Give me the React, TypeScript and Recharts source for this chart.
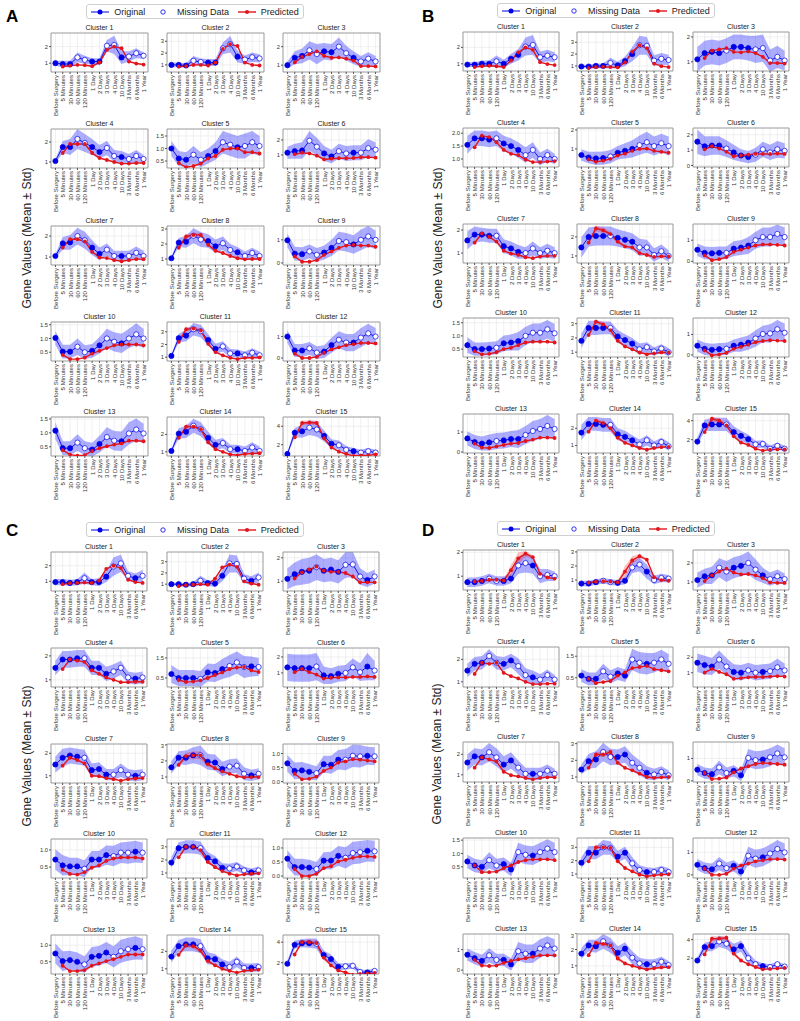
import { ComposedChart, Area, Line, XAxis, YAxis, CartesianGrid, ReferenceArea } from 'recharts';

const TIMEPOINTS = [
  'Before Surgery', '5 Minutes', '30 Minutes', '60 Minutes', '120 Minutes', '1 Day', '2 Days',
  '3 Days', '4 Days', '10 Days', '3 Months', '6 Months', '1 Year',
];
const IDX = TIMEPOINTS.map((_, i) => i);

const BLUE = '#0000e6';
const RED = '#e3141b';
const FONT = '"Liberation Sans", Arial, sans-serif';

// which time points are missing (white markers) in each panel
const A_MISSING = [3, 4, 7, 8, 10, 11, 12];
const B_MISSING = [4, 8, 9, 10, 11, 12];
const C_MISSING = [4, 8, 9, 10, 12];
const D_MISSING = [3, 4, 7, 8, 10, 11, 12];

// ---------------- panel A ----------------
const A_ORIG = [
  [1.0, 0.95, 0.95, 1.35, 1.2, 1.1, 1.1, 2.05, 2.1, 1.35, 1.4, 1.6, 1.45],
  [1.0, 1.0, 0.95, 1.35, 1.25, 1.2, 1.2, 2.4, 2.75, 1.7, 1.45, 1.65, 1.55],
  [1.0, 1.4, 1.5, 1.8, 1.6, 1.75, 1.7, 2.0, 1.65, 1.4, 1.2, 1.35, 1.2],
  [1.05, 1.75, 1.75, 2.15, 1.95, 1.75, 1.5, 1.7, 1.3, 1.25, 1.15, 1.3, 1.15],
  [1.0, 0.6, 0.55, 0.75, 0.55, 0.7, 0.9, 1.25, 1.15, 1.05, 1.1, 1.25, 1.1],
  [1.15, 1.25, 1.3, 1.95, 1.55, 1.1, 0.9, 1.25, 1.1, 1.15, 1.15, 1.45, 1.35],
  [1.05, 1.65, 1.7, 2.0, 1.8, 1.45, 1.15, 1.35, 1.05, 1.05, 1.05, 1.2, 1.05],
  [1.05, 2.1, 2.15, 2.55, 2.3, 2.2, 1.85, 2.05, 1.6, 1.45, 1.2, 1.4, 1.2],
  [0.98, 0.4, 0.38, 0.5, 0.35, 0.45, 0.65, 0.95, 0.9, 0.8, 1.0, 1.15, 1.0],
  [1.02, 0.52, 0.52, 0.7, 0.5, 0.55, 0.75, 1.0, 0.88, 0.82, 1.0, 1.15, 1.0],
  [1.1, 2.5, 2.7, 3.2, 3.05, 2.35, 1.65, 1.85, 1.3, 1.3, 1.15, 1.35, 1.15],
  [1.0, 0.35, 0.35, 0.45, 0.25, 0.3, 0.6, 0.85, 0.72, 0.72, 0.95, 1.15, 1.0],
  [1.08, 0.45, 0.45, 0.65, 0.45, 0.4, 0.6, 0.85, 0.72, 0.7, 0.98, 1.12, 0.98],
  [1.05, 2.05, 2.15, 2.5, 2.3, 1.8, 1.4, 1.5, 1.15, 1.15, 1.05, 1.25, 1.05],
  [1.0, 3.3, 3.45, 3.85, 3.65, 2.95, 2.1, 1.95, 1.45, 1.3, 1.15, 1.3, 1.15],
];
const A_STD = [
  [0.15, 0.2, 0.2, 0.3, 0.25, 0.2, 0.2, 0.35, 0.55, 0.4, 0.3, 0.3, 0.2],
  [0.2, 0.2, 0.2, 0.4, 0.3, 0.3, 0.3, 0.5, 0.7, 0.5, 0.35, 0.4, 0.35],
  [0.2, 0.35, 0.4, 0.5, 0.55, 0.45, 0.45, 0.5, 0.4, 0.35, 0.3, 0.35, 0.3],
  [0.1, 0.3, 0.4, 0.5, 0.45, 0.4, 0.35, 0.35, 0.3, 0.3, 0.25, 0.3, 0.2],
  [0.3, 0.3, 0.3, 0.35, 0.3, 0.3, 0.35, 0.45, 0.45, 0.45, 0.5, 0.45, 0.4],
  [0.4, 0.5, 0.55, 0.65, 0.6, 0.5, 0.45, 0.5, 0.5, 0.5, 0.5, 0.6, 0.5],
  [0.1, 0.3, 0.35, 0.4, 0.4, 0.35, 0.3, 0.3, 0.25, 0.25, 0.25, 0.3, 0.25],
  [0.1, 0.3, 0.4, 0.5, 0.5, 0.45, 0.45, 0.45, 0.4, 0.35, 0.3, 0.35, 0.3],
  [0.3, 0.3, 0.3, 0.3, 0.3, 0.3, 0.35, 0.4, 0.4, 0.4, 0.45, 0.45, 0.4],
  [0.25, 0.25, 0.25, 0.3, 0.25, 0.25, 0.3, 0.35, 0.35, 0.35, 0.35, 0.4, 0.35],
  [0.1, 0.35, 0.45, 0.5, 0.5, 0.45, 0.4, 0.4, 0.35, 0.3, 0.3, 0.35, 0.3],
  [0.3, 0.3, 0.3, 0.3, 0.3, 0.3, 0.35, 0.4, 0.4, 0.4, 0.45, 0.45, 0.4],
  [0.3, 0.25, 0.25, 0.3, 0.25, 0.25, 0.3, 0.35, 0.35, 0.35, 0.4, 0.4, 0.35],
  [0.1, 0.3, 0.35, 0.4, 0.4, 0.35, 0.3, 0.3, 0.25, 0.25, 0.25, 0.3, 0.25],
  [0.15, 0.5, 0.7, 0.8, 0.8, 0.6, 0.5, 0.5, 0.4, 0.35, 0.3, 0.35, 0.3],
];
// predicted values start at "5 Minutes"
const A_PRED = [
  [0.8, 0.85, 0.9, 0.88, 0.82, 1.05, 1.8, 2.0, 1.9, 1.1, 0.98, 0.92],
  [0.85, 0.9, 1.0, 1.0, 0.95, 1.2, 2.35, 2.75, 2.6, 1.2, 1.0, 0.95],
  [1.15, 1.45, 1.6, 1.75, 1.5, 1.4, 1.42, 1.35, 1.25, 0.95, 0.95, 0.93],
  [1.45, 1.9, 1.9, 1.9, 1.45, 1.2, 1.1, 1.0, 0.92, 0.92, 0.95, 0.95],
  [0.42, 0.25, 0.3, 0.4, 0.6, 0.7, 0.95, 1.0, 1.0, 0.85, 0.85, 0.8],
  [1.05, 1.15, 1.1, 0.95, 0.7, 0.75, 0.78, 0.78, 0.8, 0.85, 0.85, 0.82],
  [1.45, 1.85, 1.85, 1.75, 1.25, 0.98, 0.95, 0.85, 0.8, 0.85, 0.9, 0.9],
  [1.75, 2.5, 2.6, 2.6, 1.95, 1.55, 1.4, 1.2, 1.05, 0.98, 1.0, 1.0],
  [0.28, 0.05, 0.05, 0.12, 0.35, 0.5, 0.65, 0.75, 0.78, 0.75, 0.75, 0.7],
  [0.4, 0.25, 0.25, 0.3, 0.45, 0.55, 0.65, 0.75, 0.78, 0.78, 0.78, 0.75],
  [2.2, 3.2, 3.25, 3.1, 2.05, 1.4, 1.15, 0.95, 0.85, 0.95, 0.95, 0.98],
  [0.2, 0.0, 0.0, 0.05, 0.25, 0.4, 0.5, 0.6, 0.65, 0.7, 0.7, 0.68],
  [0.38, 0.22, 0.18, 0.2, 0.35, 0.45, 0.52, 0.58, 0.62, 0.72, 0.72, 0.7],
  [1.8, 2.45, 2.45, 2.3, 1.55, 1.15, 1.0, 0.85, 0.8, 0.88, 0.9, 0.92],
  [2.8, 4.35, 4.4, 4.35, 2.7, 1.7, 1.25, 1.0, 0.8, 0.85, 0.85, 0.95],
];
const A_PSTD = [
  null, null, null, null, null, null, null,
  [0.08, 0.15, 0.15, 0.15, 0.1, 0.05, 0.05, 0.05, 0.05, 0.05, 0.05, 0.05],
  null, null,
  [0.1, 0.15, 0.15, 0.15, 0.1, 0.05, 0.05, 0.05, 0.05, 0.05, 0.05, 0.05],
  null, null,
  [0.08, 0.12, 0.12, 0.12, 0.1, 0.05, 0.05, 0.05, 0.05, 0.05, 0.05, 0.05],
  [0.15, 0.25, 0.25, 0.25, 0.2, 0.1, 0.05, 0.05, 0.05, 0.05, 0.05, 0.05],
];
const A_TICKS = [[1, 2], [1, 2, 3], [1, 2], [1, 2], [0.5, 1, 1.5], [1, 2], [1, 2], [1, 2, 3], [0, 1], [0.5, 1, 1.5], [1, 2, 3], [0, 1], [0.5, 1, 1.5], [1, 2], [2, 4]];
const A_DOMAIN = [[0.47, 2.82], [0.4, 3.7], [0.63, 2.74], [0.7, 2.65], [0.22, 1.78], [0.13, 2.73], [0.62, 2.48], [0.6, 3.2], [-0.09, 1.6], [0.18, 1.6], [0.7, 3.77], [-0.14, 1.68], [0.17, 1.57], [0.76, 3.0], [0.78, 5.0]];

// ---------------- panel B ----------------
const B_ORIG = [
  [0.95, 0.95, 1.0, 1.0, 1.15, 1.0, 1.3, 1.55, 2.05, 2.15, 1.4, 1.5, 1.4],
  [0.95, 0.95, 1.0, 1.0, 1.25, 1.05, 1.4, 2.0, 2.75, 2.7, 1.45, 1.6, 1.5],
  [1.1, 1.35, 1.4, 1.35, 1.45, 1.6, 1.6, 1.55, 1.5, 1.55, 1.05, 1.2, 1.05],
  [1.55, 1.8, 1.8, 1.75, 1.8, 1.6, 1.5, 1.35, 1.15, 1.35, 1.0, 1.15, 1.0],
  [0.68, 0.55, 0.5, 0.52, 0.6, 0.8, 0.9, 1.0, 1.2, 1.35, 1.15, 1.3, 1.15],
  [1.55, 1.25, 1.3, 1.3, 1.1, 0.85, 0.65, 0.55, 0.7, 1.05, 0.85, 1.05, 0.95],
  [1.55, 1.8, 1.8, 1.75, 1.75, 1.3, 1.2, 1.05, 1.0, 1.2, 1.0, 1.1, 1.0],
  [1.45, 2.0, 2.05, 2.05, 2.05, 1.95, 1.85, 1.75, 1.45, 1.45, 1.05, 1.25, 1.0],
  [0.55, 0.4, 0.38, 0.4, 0.4, 0.6, 0.65, 0.75, 1.0, 1.15, 1.15, 1.3, 1.15],
  [0.65, 0.5, 0.5, 0.52, 0.55, 0.72, 0.75, 0.8, 1.0, 1.12, 1.12, 1.25, 1.1],
  [1.8, 2.7, 2.7, 2.7, 2.7, 2.1, 1.85, 1.6, 1.2, 1.35, 1.05, 1.25, 1.0],
  [0.45, 0.3, 0.25, 0.28, 0.3, 0.45, 0.5, 0.6, 0.8, 1.02, 1.05, 1.25, 1.08],
  [0.68, 0.5, 0.42, 0.48, 0.55, 0.58, 0.65, 0.65, 0.85, 1.05, 1.15, 1.3, 1.15],
  [1.75, 2.25, 2.25, 2.2, 2.2, 1.65, 1.5, 1.3, 1.05, 1.3, 1.0, 1.2, 0.95],
  [1.8, 3.5, 3.6, 3.6, 3.6, 2.8, 2.4, 2.05, 1.5, 1.55, 1.05, 1.35, 1.05],
];
const B_STD = [
  [0.15, 0.15, 0.2, 0.2, 0.35, 0.25, 0.3, 0.35, 0.55, 0.6, 0.35, 0.35, 0.3],
  [0.15, 0.15, 0.2, 0.2, 0.45, 0.3, 0.4, 0.6, 0.8, 0.75, 0.45, 0.5, 0.45],
  [0.5, 0.5, 0.5, 0.5, 0.5, 0.5, 0.5, 0.5, 0.55, 0.55, 0.45, 0.45, 0.4],
  [0.35, 0.3, 0.3, 0.3, 0.3, 0.3, 0.3, 0.3, 0.3, 0.3, 0.25, 0.25, 0.2],
  [0.3, 0.3, 0.35, 0.35, 0.35, 0.35, 0.4, 0.45, 0.5, 0.55, 0.5, 0.5, 0.5],
  [0.8, 0.65, 0.6, 0.6, 0.55, 0.5, 0.4, 0.4, 0.45, 0.5, 0.5, 0.55, 0.5],
  [0.4, 0.35, 0.3, 0.3, 0.3, 0.3, 0.3, 0.3, 0.25, 0.3, 0.25, 0.3, 0.25],
  [0.55, 0.5, 0.5, 0.5, 0.5, 0.45, 0.45, 0.45, 0.45, 0.4, 0.35, 0.35, 0.3],
  [0.3, 0.3, 0.3, 0.3, 0.3, 0.35, 0.35, 0.4, 0.4, 0.45, 0.45, 0.45, 0.45],
  [0.3, 0.25, 0.25, 0.25, 0.25, 0.3, 0.3, 0.35, 0.35, 0.35, 0.35, 0.35, 0.35],
  [0.5, 0.5, 0.5, 0.45, 0.45, 0.45, 0.4, 0.4, 0.4, 0.35, 0.3, 0.3, 0.3],
  [0.3, 0.3, 0.3, 0.3, 0.3, 0.3, 0.35, 0.35, 0.4, 0.4, 0.45, 0.45, 0.45],
  [0.35, 0.35, 0.35, 0.4, 0.4, 0.4, 0.4, 0.45, 0.45, 0.5, 0.5, 0.55, 0.5],
  [0.45, 0.4, 0.4, 0.4, 0.4, 0.35, 0.35, 0.3, 0.3, 0.3, 0.25, 0.25, 0.25],
  [0.4, 0.6, 0.7, 0.7, 0.7, 0.6, 0.55, 0.5, 0.4, 0.4, 0.35, 0.35, 0.3],
];
const B_PRED = [
  [0.8, 0.85, 0.88, 0.85, 0.8, 1.2, 1.7, 2.0, 1.85, 1.1, 0.98, 0.92],
  [0.82, 0.9, 0.92, 0.9, 0.88, 1.3, 2.2, 2.75, 2.5, 1.2, 0.98, 0.9],
  [1.15, 1.45, 1.5, 1.55, 1.4, 1.38, 1.42, 1.35, 1.2, 0.95, 0.95, 0.93],
  [1.45, 1.9, 1.85, 1.65, 1.35, 1.2, 1.15, 0.98, 0.88, 0.88, 0.9, 0.92],
  [0.45, 0.32, 0.38, 0.48, 0.65, 0.75, 0.9, 1.0, 1.02, 0.9, 0.85, 0.8],
  [1.05, 1.25, 1.1, 0.9, 0.6, 0.65, 0.7, 0.75, 0.75, 0.75, 0.78, 0.75],
  [1.45, 1.85, 1.7, 1.5, 1.1, 0.98, 0.92, 0.82, 0.78, 0.85, 0.88, 0.88],
  [1.7, 2.45, 2.35, 2.15, 1.75, 1.5, 1.45, 1.15, 1.05, 0.95, 0.98, 0.98],
  [0.28, 0.05, 0.1, 0.2, 0.45, 0.55, 0.65, 0.75, 0.8, 0.8, 0.78, 0.75],
  [0.42, 0.3, 0.32, 0.38, 0.5, 0.55, 0.65, 0.75, 0.78, 0.78, 0.78, 0.75],
  [2.2, 3.15, 2.95, 2.55, 1.8, 1.4, 1.2, 0.98, 0.85, 0.92, 0.98, 0.98],
  [0.22, -0.02, 0.02, 0.1, 0.3, 0.4, 0.5, 0.62, 0.68, 0.72, 0.7, 0.68],
  [0.42, 0.22, 0.2, 0.28, 0.35, 0.42, 0.45, 0.55, 0.62, 0.72, 0.72, 0.7],
  [1.8, 2.45, 2.3, 2.0, 1.45, 1.15, 1.0, 0.85, 0.75, 0.85, 0.9, 0.92],
  [2.8, 4.2, 4.0, 3.5, 2.35, 1.7, 1.45, 1.05, 0.85, 0.95, 0.98, 0.98],
];
const B_PSTD = [
  null, null, null, null, null, null, null,
  [0.08, 0.15, 0.15, 0.12, 0.1, 0.05, 0.05, 0.05, 0.05, 0.05, 0.05, 0.05],
  null, null,
  [0.1, 0.15, 0.15, 0.12, 0.1, 0.05, 0.05, 0.05, 0.05, 0.05, 0.05, 0.05],
  null, null,
  [0.08, 0.12, 0.12, 0.1, 0.08, 0.05, 0.05, 0.05, 0.05, 0.05, 0.05, 0.05],
  [0.15, 0.25, 0.25, 0.2, 0.15, 0.1, 0.05, 0.05, 0.05, 0.05, 0.05, 0.05],
];
const B_TICKS = [[1, 2], [1, 2, 3], [1, 2], [1, 1.5, 2], [1, 2], [0, 1, 2], [1, 2], [1, 2], [0, 1], [0.5, 1, 1.5], [1, 2, 3], [0, 1], [0, 1], [1, 2], [2, 4]];
const B_DOMAIN = [[0.56, 2.94], [0.57, 3.87], [0.63, 2.2], [0.69, 2.2], [0.05, 2.1], [-0.1, 2.44], [0.57, 2.26], [0.63, 2.68], [-0.08, 1.77], [0.2, 1.68], [0.66, 3.4], [-0.1, 1.8], [-0.05, 1.9], [0.56, 2.83], [0.6, 4.7]];

// ---------------- panel C ----------------
const C_ORIG = [
  [0.95, 0.95, 0.9, 0.95, 1.2, 0.95, 0.95, 1.3, 1.95, 2.15, 1.35, 1.2, 1.35],
  [1.0, 1.0, 0.95, 1.0, 1.3, 1.1, 1.05, 1.75, 2.85, 2.8, 1.5, 1.3, 1.6],
  [1.1, 1.3, 1.4, 1.45, 1.6, 1.45, 1.5, 1.4, 1.7, 1.72, 1.2, 1.05, 1.2],
  [1.5, 1.85, 1.85, 1.9, 1.9, 1.5, 1.5, 1.25, 1.35, 1.5, 1.1, 1.05, 1.1],
  [0.7, 0.5, 0.5, 0.5, 0.45, 0.78, 0.75, 0.95, 1.1, 1.28, 1.05, 1.08, 1.05],
  [1.35, 1.3, 1.3, 1.3, 1.4, 0.85, 0.8, 0.95, 1.0, 1.35, 1.05, 1.4, 1.15],
  [1.5, 1.8, 1.9, 1.85, 1.8, 1.25, 1.3, 1.05, 1.05, 1.25, 1.05, 1.0, 1.05],
  [1.6, 2.2, 2.2, 2.35, 2.35, 1.95, 1.9, 1.5, 1.65, 1.7, 1.2, 1.1, 1.2],
  [0.65, 0.38, 0.4, 0.35, 0.3, 0.62, 0.6, 0.78, 0.78, 0.92, 0.9, 0.92, 0.9],
  [0.72, 0.55, 0.52, 0.52, 0.45, 0.72, 0.72, 0.85, 0.82, 0.92, 0.92, 0.95, 0.92],
  [1.8, 2.9, 3.0, 3.0, 2.9, 2.15, 1.9, 1.4, 1.35, 1.5, 1.2, 1.05, 1.2],
  [0.62, 0.32, 0.32, 0.3, 0.25, 0.55, 0.55, 0.72, 0.65, 0.82, 0.85, 0.9, 0.88],
  [0.75, 0.52, 0.55, 0.5, 0.42, 0.65, 0.68, 0.78, 0.65, 0.82, 0.88, 0.92, 0.88],
  [1.7, 2.3, 2.4, 2.4, 2.3, 1.6, 1.55, 1.25, 1.1, 1.4, 1.05, 1.05, 1.1],
  [1.9, 3.75, 3.9, 3.9, 3.85, 2.75, 2.35, 1.6, 1.65, 1.7, 1.1, 1.05, 1.2],
];
const C_STD = [
  [0.2, 0.2, 0.2, 0.2, 0.35, 0.2, 0.25, 0.35, 0.6, 0.55, 0.3, 0.3, 0.4],
  [0.15, 0.15, 0.15, 0.2, 0.45, 0.25, 0.3, 0.5, 0.8, 0.75, 0.4, 0.4, 0.45],
  [0.45, 0.5, 0.55, 0.55, 0.55, 0.5, 0.5, 0.5, 0.55, 0.55, 0.35, 0.3, 0.3],
  [0.3, 0.35, 0.35, 0.35, 0.35, 0.3, 0.3, 0.3, 0.3, 0.3, 0.25, 0.25, 0.25],
  [0.45, 0.4, 0.4, 0.4, 0.4, 0.45, 0.45, 0.5, 0.55, 0.55, 0.55, 0.5, 0.45],
  [0.85, 0.85, 0.85, 0.85, 0.85, 0.55, 0.5, 0.5, 0.5, 0.55, 0.55, 0.85, 0.6],
  [0.35, 0.4, 0.35, 0.35, 0.35, 0.3, 0.3, 0.25, 0.25, 0.3, 0.25, 0.25, 0.25],
  [0.4, 0.4, 0.45, 0.5, 0.6, 0.5, 0.5, 0.45, 0.45, 0.45, 0.4, 0.35, 0.35],
  [0.3, 0.3, 0.3, 0.28, 0.25, 0.3, 0.32, 0.35, 0.38, 0.4, 0.4, 0.32, 0.32],
  [0.3, 0.3, 0.25, 0.25, 0.25, 0.25, 0.25, 0.28, 0.3, 0.3, 0.32, 0.32, 0.3],
  [0.4, 0.45, 0.5, 0.5, 0.5, 0.45, 0.4, 0.35, 0.35, 0.35, 0.3, 0.3, 0.3],
  [0.3, 0.3, 0.3, 0.28, 0.25, 0.3, 0.32, 0.35, 0.38, 0.4, 0.4, 0.38, 0.38],
  [0.3, 0.3, 0.28, 0.28, 0.25, 0.3, 0.3, 0.32, 0.32, 0.35, 0.35, 0.35, 0.32],
  [0.35, 0.35, 0.4, 0.4, 0.4, 0.35, 0.3, 0.3, 0.3, 0.3, 0.25, 0.25, 0.25],
  [0.3, 0.4, 0.4, 0.45, 0.5, 0.45, 0.45, 0.35, 0.3, 0.3, 0.25, 0.25, 0.25],
];
const C_PRED = [
  [0.82, 0.88, 0.9, 0.92, 0.9, 1.05, 1.8, 2.0, 1.85, 1.1, 0.95, 0.9],
  [0.82, 0.92, 0.95, 1.0, 0.95, 1.5, 2.5, 2.75, 2.55, 1.25, 1.05, 0.95],
  [1.12, 1.38, 1.5, 1.62, 1.45, 1.4, 1.4, 1.35, 1.2, 0.95, 0.95, 0.95],
  [1.45, 1.85, 1.8, 1.75, 1.4, 1.25, 1.1, 1.0, 0.9, 0.9, 0.92, 0.92],
  [0.4, 0.3, 0.32, 0.38, 0.5, 0.65, 0.78, 0.95, 1.02, 1.05, 0.88, 0.8],
  [1.05, 1.25, 1.05, 0.9, 0.65, 0.7, 0.72, 0.72, 0.75, 0.75, 0.78, 0.75],
  [1.45, 1.8, 1.7, 1.55, 1.0, 0.98, 0.9, 0.85, 0.78, 0.85, 0.88, 0.9],
  [1.75, 2.3, 2.35, 2.35, 1.8, 1.55, 1.35, 1.2, 1.05, 0.98, 1.0, 1.0],
  [0.28, 0.08, 0.1, 0.18, 0.38, 0.5, 0.68, 0.72, 0.8, 0.78, 0.75, 0.72],
  [0.42, 0.3, 0.28, 0.35, 0.48, 0.55, 0.68, 0.75, 0.78, 0.78, 0.78, 0.75],
  [2.2, 3.0, 3.0, 2.75, 1.85, 1.45, 1.15, 0.95, 0.82, 0.9, 0.95, 0.98],
  [0.25, 0.0, 0.0, 0.08, 0.28, 0.35, 0.52, 0.58, 0.65, 0.7, 0.7, 0.68],
  [0.38, 0.22, 0.22, 0.25, 0.38, 0.45, 0.52, 0.58, 0.65, 0.72, 0.72, 0.72],
  [1.8, 2.35, 2.3, 2.05, 1.45, 1.2, 1.0, 0.88, 0.78, 0.88, 0.92, 0.95],
  [2.8, 4.0, 4.0, 3.9, 2.5, 1.75, 1.25, 1.05, 0.82, 0.92, 0.95, 1.0],
];
const C_PSTD = [
  null, null, null, null, null, null, null,
  [0.1, 0.2, 0.25, 0.25, 0.15, 0.08, 0.05, 0.05, 0.05, 0.05, 0.05, 0.05],
  null, null,
  [0.1, 0.15, 0.15, 0.15, 0.1, 0.05, 0.05, 0.05, 0.05, 0.05, 0.05, 0.05],
  null, null,
  [0.1, 0.12, 0.15, 0.15, 0.1, 0.05, 0.05, 0.05, 0.05, 0.05, 0.05, 0.05],
  [0.15, 0.2, 0.25, 0.3, 0.25, 0.1, 0.05, 0.05, 0.05, 0.05, 0.05, 0.05],
];
const C_TICKS = [[1, 2], [1, 2, 3], [1, 2], [1, 2], [0.5, 1, 1.5], [1, 2], [1, 2], [1, 2, 3], [0, 0.5, 1], [0.5, 1], [1, 2, 3], [0, 0.5, 1], [0.5, 1], [1, 2], [2, 4]];
const C_DOMAIN = [[0.38, 2.88], [0.39, 3.87], [0.58, 2.25], [0.7, 2.33], [0.05, 2.0], [0.12, 2.56], [0.68, 2.41], [0.63, 3.05], [-0.05, 1.34], [0.18, 1.32], [0.62, 3.6], [-0.07, 1.32], [0.13, 1.31], [0.7, 2.94], [0.9, 4.7]];

// ---------------- panel D ----------------
const D_ORIG = [
  [0.75, 0.75, 0.8, 0.9, 0.8, 0.8, 0.9, 1.45, 1.55, 1.45, 1.0, 1.05, 1.0],
  [0.75, 0.75, 0.85, 0.95, 0.85, 0.8, 0.95, 1.9, 2.1, 1.6, 1.0, 1.15, 1.1],
  [1.1, 1.3, 1.35, 1.75, 1.55, 1.75, 1.85, 2.0, 1.65, 1.35, 1.15, 1.3, 1.15],
  [1.5, 1.8, 1.85, 2.15, 1.85, 1.8, 1.95, 1.7, 1.3, 1.2, 1.1, 1.3, 1.1],
  [0.6, 0.45, 0.45, 0.8, 0.55, 0.7, 0.6, 1.35, 1.2, 1.15, 1.2, 1.35, 1.15],
  [1.65, 1.5, 1.4, 1.85, 1.4, 1.05, 1.0, 1.15, 1.0, 1.05, 1.1, 1.35, 1.15],
  [1.6, 1.9, 1.85, 2.1, 1.85, 1.5, 1.7, 1.35, 1.05, 1.05, 1.05, 1.2, 1.05],
  [1.45, 1.95, 2.05, 2.5, 2.2, 2.2, 2.35, 1.85, 1.55, 1.25, 1.15, 1.3, 1.1],
  [0.5, 0.35, 0.3, 0.6, 0.35, 0.45, 0.25, 1.02, 0.92, 0.95, 1.05, 1.22, 1.05],
  [0.7, 0.55, 0.5, 0.75, 0.55, 0.6, 0.4, 1.05, 0.95, 0.92, 1.05, 1.18, 1.05],
  [1.85, 2.6, 2.6, 3.0, 2.95, 2.3, 2.6, 1.8, 1.3, 1.15, 1.15, 1.3, 1.15],
  [0.45, 0.3, 0.25, 0.5, 0.3, 0.4, 0.15, 0.85, 0.72, 0.78, 0.95, 1.15, 1.0],
  [0.75, 0.58, 0.45, 0.72, 0.5, 0.5, 0.28, 0.92, 0.8, 0.8, 1.05, 1.2, 1.05],
  [1.75, 2.25, 2.2, 2.5, 2.25, 1.8, 2.05, 1.5, 1.15, 1.1, 1.1, 1.25, 1.05],
  [1.75, 3.2, 3.3, 3.8, 3.55, 2.95, 3.3, 2.0, 1.35, 1.15, 1.05, 1.35, 1.1],
];
const D_STD = [
  [0.2, 0.2, 0.2, 0.2, 0.2, 0.2, 0.2, 0.35, 0.4, 0.35, 0.3, 0.25, 0.2],
  [0.2, 0.2, 0.2, 0.2, 0.2, 0.2, 0.25, 0.4, 0.5, 0.5, 0.3, 0.3, 0.25],
  [0.4, 0.4, 0.45, 0.5, 0.55, 0.55, 0.55, 0.6, 0.55, 0.4, 0.35, 0.35, 0.3],
  [0.3, 0.3, 0.3, 0.3, 0.3, 0.3, 0.3, 0.35, 0.3, 0.3, 0.25, 0.25, 0.2],
  [0.3, 0.3, 0.3, 0.35, 0.3, 0.3, 0.3, 0.5, 0.5, 0.5, 0.45, 0.45, 0.45],
  [0.6, 0.6, 0.55, 0.6, 0.55, 0.5, 0.5, 0.5, 0.5, 0.5, 0.5, 0.55, 0.45],
  [0.4, 0.4, 0.4, 0.45, 0.45, 0.4, 0.4, 0.35, 0.3, 0.3, 0.3, 0.3, 0.25],
  [0.3, 0.45, 0.5, 0.55, 0.5, 0.45, 0.5, 0.5, 0.45, 0.4, 0.35, 0.35, 0.3],
  [0.25, 0.25, 0.25, 0.3, 0.25, 0.25, 0.25, 0.4, 0.4, 0.4, 0.4, 0.4, 0.4],
  [0.25, 0.25, 0.25, 0.3, 0.25, 0.25, 0.25, 0.35, 0.35, 0.35, 0.35, 0.35, 0.35],
  [0.4, 0.5, 0.5, 0.55, 0.5, 0.45, 0.45, 0.45, 0.35, 0.35, 0.3, 0.3, 0.3],
  [0.25, 0.25, 0.25, 0.3, 0.25, 0.25, 0.25, 0.4, 0.4, 0.4, 0.4, 0.4, 0.4],
  [0.3, 0.3, 0.3, 0.35, 0.3, 0.3, 0.3, 0.45, 0.45, 0.45, 0.45, 0.45, 0.45],
  [0.35, 0.35, 0.4, 0.45, 0.45, 0.4, 0.4, 0.4, 0.35, 0.3, 0.3, 0.3, 0.25],
  [0.3, 0.45, 0.55, 0.6, 0.6, 0.6, 0.6, 0.6, 0.4, 0.3, 0.3, 0.3, 0.25],
];
const D_PRED = [
  [0.78, 0.8, 0.85, 0.85, 0.82, 1.25, 1.75, 1.95, 1.8, 1.1, 0.95, 0.9],
  [0.82, 0.88, 0.92, 0.88, 0.85, 1.6, 2.4, 2.7, 2.45, 1.2, 1.0, 0.95],
  [1.05, 1.35, 1.55, 1.7, 1.5, 1.4, 1.42, 1.35, 1.2, 0.98, 0.95, 0.95],
  [1.35, 1.85, 1.8, 1.85, 1.4, 1.25, 1.15, 1.0, 0.9, 0.9, 0.92, 0.92],
  [0.45, 0.25, 0.3, 0.35, 0.6, 0.75, 0.95, 1.0, 1.05, 0.9, 0.85, 0.8],
  [1.0, 1.25, 1.05, 0.9, 0.6, 0.65, 0.7, 0.72, 0.72, 0.75, 0.78, 0.75],
  [1.35, 1.85, 1.75, 1.65, 1.15, 0.98, 0.92, 0.85, 0.78, 0.85, 0.88, 0.88],
  [1.55, 2.35, 2.35, 2.5, 1.85, 1.55, 1.4, 1.2, 1.0, 0.95, 0.98, 1.0],
  [0.35, 0.08, 0.1, 0.15, 0.38, 0.55, 0.65, 0.75, 0.8, 0.78, 0.75, 0.72],
  [0.55, 0.3, 0.3, 0.32, 0.45, 0.55, 0.68, 0.75, 0.78, 0.78, 0.78, 0.75],
  [1.95, 3.0, 3.0, 2.95, 1.95, 1.45, 1.2, 0.95, 0.82, 0.9, 0.95, 0.98],
  [0.28, 0.0, 0.0, 0.05, 0.28, 0.42, 0.5, 0.6, 0.65, 0.7, 0.7, 0.68],
  [0.5, 0.22, 0.2, 0.22, 0.35, 0.45, 0.52, 0.58, 0.65, 0.72, 0.72, 0.72],
  [1.65, 2.4, 2.35, 2.25, 1.45, 1.15, 1.0, 0.88, 0.78, 0.85, 0.9, 0.92],
  [2.4, 4.1, 4.1, 4.2, 2.5, 1.75, 1.35, 1.05, 0.8, 0.85, 0.9, 0.95],
];
const D_PSTD = [
  [0.05, 0.05, 0.05, 0.05, 0.05, 0.22, 0.25, 0.12, 0.08, 0.05, 0.05, 0.05],
  [0.05, 0.05, 0.05, 0.05, 0.08, 0.4, 0.3, 0.15, 0.08, 0.05, 0.05, 0.05],
  null, null, null, null, null,
  [0.1, 0.15, 0.15, 0.15, 0.1, 0.05, 0.05, 0.05, 0.05, 0.05, 0.05, 0.05],
  null, null,
  [0.1, 0.15, 0.15, 0.15, 0.1, 0.05, 0.05, 0.05, 0.05, 0.05, 0.05, 0.05],
  null, null,
  [0.08, 0.12, 0.15, 0.15, 0.12, 0.08, 0.05, 0.05, 0.05, 0.05, 0.05, 0.05],
  [0.15, 0.25, 0.25, 0.25, 0.25, 0.15, 0.05, 0.05, 0.05, 0.05, 0.05, 0.05],
];
const D_TICKS = [[1, 2], [1, 2, 3], [1, 2], [1, 2], [0.5, 1, 1.5], [1, 2], [1, 2], [1, 2, 3], [0, 1], [0.5, 1, 1.5], [1, 2, 3], [0, 1], [0, 1], [1, 2, 3], [2, 4]];
const D_DOMAIN = [[0.42, 2.1], [0.29, 3.14], [0.58, 2.68], [0.77, 2.55], [0.07, 1.93], [0.07, 2.67], [0.65, 2.6], [0.7, 3.1], [-0.05, 1.73], [0.08, 1.58], [0.7, 3.7], [-0.14, 1.64], [-0.19, 1.76], [0.5, 2.95], [0.3, 4.6]];

const PANELS = [
  { id: 'A', orig: A_ORIG, std: A_STD, pred: A_PRED, pstd: A_PSTD, ticks: A_TICKS, domain: A_DOMAIN, missing: A_MISSING },
  { id: 'B', orig: B_ORIG, std: B_STD, pred: B_PRED, pstd: B_PSTD, ticks: B_TICKS, domain: B_DOMAIN, missing: B_MISSING },
  { id: 'C', orig: C_ORIG, std: C_STD, pred: C_PRED, pstd: C_PSTD, ticks: C_TICKS, domain: C_DOMAIN, missing: C_MISSING },
  { id: 'D', orig: D_ORIG, std: D_STD, pred: D_PRED, pstd: D_PSTD, ticks: D_TICKS, domain: D_DOMAIN, missing: D_MISSING },
];

// page layout of each panel (plot-box positions)
const LAYOUT: Record<string, any> = {
  A: { cols: [51, 167, 283], rows: [33, 129, 226, 322, 417], w: 97, h: 39, letter: [6, 7], legend: [86, 4], ylab: [27, 238] },
  B: { cols: [463, 577, 693], rows: [32, 128, 224, 318, 414], w: 96, h: 39, letter: [422, 7], legend: [497, 3], ylab: [438, 238] },
  C: { cols: [51, 167, 283], rows: [552, 648, 744, 839, 935], w: 96, h: 39, letter: [6, 521], legend: [86, 522], ylab: [27, 756] },
  D: { cols: [463, 577, 693], rows: [550, 647, 742, 838, 934], w: 96, h: 40, letter: [422, 521], legend: [497, 521], ylab: [437, 754] },
};

const YW = 16;
const XH = 50;

function XTick(props: any) {
  const { x, y, payload } = props;
  return (
    <text x={x} y={y} transform={`rotate(-90, ${x}, ${y})`} textAnchor="end" dominantBaseline="central" fontSize={6.1} fill="#333" fontFamily={FONT}>
      {TIMEPOINTS[payload.value]}
    </text>
  );
}

function ClusterChart({ n, orig, std, pred, pstd, ticks, domain, missing, left, top, w, h }: any) {
  const data = IDX.map((i) => ({
    i,
    orig: orig[i],
    band: [orig[i] - std[i], orig[i] + std[i]],
    pred: i === 0 ? null : pred[i - 1],
    pband: pstd && i > 0 ? [pred[i - 1] - pstd[i - 1], pred[i - 1] + pstd[i - 1]] : null,
  }));
  const dec = ticks.some((t: number) => !Number.isInteger(t));

  const origDot = (p: any) => {
    if (p.cx == null || p.cy == null) return <g key={p.index} />;
    const miss = missing.includes(p.index);
    return <circle key={p.index} cx={p.cx} cy={p.cy} r={2.6} fill={miss ? '#fff' : BLUE} stroke={BLUE} strokeWidth={0.7} />;
  };

  return (
    <>
      <div style={{ position: 'absolute', left, top: top - 10, width: w, textAlign: 'center', fontSize: 7, lineHeight: '9px', color: '#222', fontFamily: FONT }}>
        Cluster {n}
      </div>
      <div style={{ position: 'absolute', left: left - YW, top: top - 1 }}>
        <ComposedChart width={w + YW + 1} height={h + XH + 1} data={data} margin={{ top: 1, right: 1, left: 0, bottom: 0 }}>
          <CartesianGrid stroke="#e6e6e6" strokeWidth={0.6} />
          <XAxis dataKey="i" type="number" domain={[-0.6, 12.6]} ticks={IDX} interval={0} height={XH}
            tick={<XTick />} tickSize={2} tickMargin={1} axisLine={false} stroke="#555" />
          <YAxis type="number" domain={domain} ticks={ticks} allowDataOverflow width={YW} tickSize={2} tickMargin={1}
            axisLine={false} stroke="#555" tick={{ fontSize: 5.8, fill: '#333', fontFamily: FONT }}
            tickFormatter={(v: number) => (dec ? v.toFixed(1) : String(v))} />
          <Area dataKey="band" type="linear" stroke="none" fill="#0000ff" fillOpacity={0.32} dot={false} activeDot={false} isAnimationActive={false} />
          {pstd && (
            <Area dataKey="pband" type="linear" stroke="none" fill="#ff0000" fillOpacity={0.25} dot={false} activeDot={false} isAnimationActive={false} />
          )}
          <Line dataKey="orig" type="linear" stroke={BLUE} strokeWidth={0.9} dot={origDot} activeDot={false} isAnimationActive={false} />
          <Line dataKey="pred" type="linear" stroke={RED} strokeWidth={1.4} dot={{ r: 1.9, fill: RED, stroke: RED, strokeWidth: 0 }} activeDot={false} isAnimationActive={false} />
          <ReferenceArea x1={-0.6} x2={12.6} y1={domain[0]} y2={domain[1]} fill="none" stroke="#8c8c8c" strokeWidth={0.8} />
        </ComposedChart>
      </div>
    </>
  );
}

function PanelLegend({ x, y }: { x: number; y: number }) {
  const item = { display: 'flex', alignItems: 'center', gap: 5 } as const;
  return (
    <div style={{
      position: 'absolute', left: x, top: y, width: 218, height: 15, border: '1px solid #d0d0d0', borderRadius: 3,
      background: '#fff', display: 'flex', alignItems: 'center', justifyContent: 'space-around',
      fontFamily: FONT, fontSize: 9, color: '#222', boxSizing: 'border-box',
    }}>
      <div style={item}>
        <svg width={18} height={8}><line x1={0} y1={4} x2={18} y2={4} stroke={BLUE} strokeWidth={1} /><circle cx={9} cy={4} r={2.5} fill={BLUE} /></svg>
        <span>Original</span>
      </div>
      <div style={item}>
        <svg width={18} height={8}><circle cx={9} cy={4} r={2.2} fill="#fff" stroke={BLUE} strokeWidth={0.8} /></svg>
        <span>Missing Data</span>
      </div>
      <div style={item}>
        <svg width={18} height={8}><line x1={0} y1={4} x2={18} y2={4} stroke={RED} strokeWidth={1.4} /><circle cx={9} cy={4} r={2} fill={RED} /></svg>
        <span>Predicted</span>
      </div>
    </div>
  );
}

export default function App() {
  return (
    <div style={{ position: 'absolute', left: 0, top: 0, width: 800, height: 1021, background: '#fff', overflow: 'hidden' }}>
      {PANELS.map((p) => {
        const L = LAYOUT[p.id];
        return (
          <div key={p.id}>
            <div style={{ position: 'absolute', left: L.letter[0], top: L.letter[1], fontFamily: FONT, fontWeight: 700, fontSize: 17, lineHeight: '20px' }}>
              {p.id}
            </div>
            <PanelLegend x={L.legend[0]} y={L.legend[1]} />
            <div style={{
              position: 'absolute', left: L.ylab[0], top: L.ylab[1], transform: 'translate(-50%, -50%) rotate(-90deg)',
              whiteSpace: 'nowrap', fontFamily: FONT, fontSize: 12, color: '#222',
            }}>
              Gene Values (Mean ± Std)
            </div>
            {p.orig.map((o, k) => (
              <ClusterChart
                key={k}
                n={k + 1}
                orig={o}
                std={p.std[k]}
                pred={p.pred[k]}
                pstd={p.pstd[k]}
                ticks={p.ticks[k]}
                domain={p.domain[k]}
                missing={p.missing}
                left={L.cols[k % 3]}
                top={L.rows[Math.floor(k / 3)]}
                w={L.w}
                h={L.h}
              />
            ))}
          </div>
        );
      })}
    </div>
  );
}
